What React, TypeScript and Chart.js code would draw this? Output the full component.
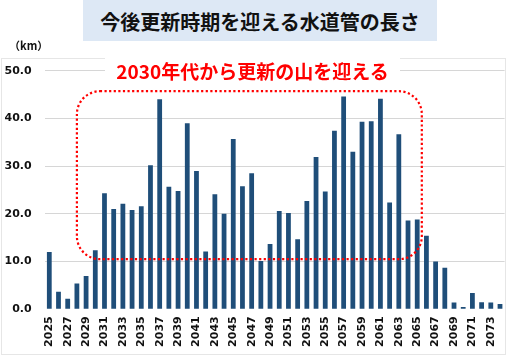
import React, { useEffect, useRef } from 'react';
import { Chart, registerables } from 'chart.js';

Chart.register(...registerables);

const TITLE = '今後更新時期を迎える水道管の長さ';
const UNIT = '（km）';
const NOTE = '2030年代から更新の山を迎える';

const YEARS = [
  '2025', '2026', '2027', '2028', '2029', '2030', '2031', '2032', '2033', '2034',
  '2035', '2036', '2037', '2038', '2039', '2040', '2041', '2042', '2043', '2044',
  '2045', '2046', '2047', '2048', '2049', '2050', '2051', '2052', '2053', '2054',
  '2055', '2056', '2057', '2058', '2059', '2060', '2061', '2062', '2063', '2064',
  '2065', '2066', '2067', '2068', '2069', '2070', '2071', '2072', '2073', '2074',
];

const LENGTH_KM = [
  12.0, 3.7, 2.2, 5.4, 7.0, 12.4, 24.3, 21.0, 22.1, 20.8,
  21.6, 30.2, 44.0, 25.7, 24.8, 39.0, 29.0, 12.1, 24.1, 20.0,
  35.7, 25.8, 28.5, 10.1, 13.7, 20.6, 20.2, 14.7, 22.7, 31.9,
  24.7, 37.4, 44.6, 33.0, 39.3, 39.4, 44.1, 22.4, 36.7, 18.6,
  18.8, 15.4, 10.0, 8.7, 1.4, 0.5, 3.4, 1.5, 1.4, 1.1,
];

const Y_MIN = 0;
const Y_MAX = 50;
const Y_STEP = 10;

// dotted "peak" frame: category index range and value range
const PEAK_FROM_INDEX = 3;
const PEAK_TO_INDEX = 40.5;
const PEAK_LOW = 10.5;
const PEAK_HIGH = 45.7;

const BAR_COLOR = '#1f4e79';
const RED = '#ff0000';

const peakFramePlugin = {
  id: 'peakFrame',
  afterDatasetsDraw(chart: any) {
    const { ctx, scales } = chart;
    const x = scales.x;
    const y = scales.y;
    const l = x.getPixelForValue(PEAK_FROM_INDEX);
    const r = x.getPixelForValue(PEAK_TO_INDEX);
    const t = y.getPixelForValue(PEAK_HIGH);
    const b = y.getPixelForValue(PEAK_LOW);
    const rad = 23;
    ctx.save();
    ctx.strokeStyle = RED;
    ctx.lineWidth = 2.2;
    ctx.setLineDash([2.2, 2.4]);
    ctx.beginPath();
    ctx.moveTo(l + rad, t);
    ctx.lineTo(r - rad, t);
    ctx.arcTo(r, t, r, t + rad, rad);
    ctx.lineTo(r, b - rad);
    ctx.arcTo(r, b, r - rad, b, rad);
    ctx.lineTo(l + rad, b);
    ctx.arcTo(l, b, l, b - rad, rad);
    ctx.lineTo(l, t + rad);
    ctx.arcTo(l, t, l + rad, t, rad);
    ctx.closePath();
    ctx.stroke();
    ctx.restore();
  },
};

export default function App() {
  const canvasRef = useRef<HTMLCanvasElement | null>(null);

  useEffect(() => {
    if (!canvasRef.current) return;
    const tickFont = { family: "'DejaVu Sans', Verdana, sans-serif", size: 11, weight: 'bold' as const };
    const chart = new Chart(canvasRef.current, {
      type: 'bar',
      data: {
        labels: YEARS,
        datasets: [
          {
            data: LENGTH_KM,
            backgroundColor: BAR_COLOR,
            borderWidth: 0,
            barPercentage: 0.52,
            categoryPercentage: 1,
          },
        ],
      },
      options: {
        responsive: false,
        animation: false,
        layout: { padding: { top: 70.7, right: 7.4, left: 0, bottom: 0 } },
        plugins: {
          legend: { display: false },
          title: { display: false },
          tooltip: { enabled: false },
        },
        scales: {
          x: {
            grid: { display: false, drawTicks: false },
            border: { display: false },
            ticks: {
              autoSkip: false,
              maxRotation: 90,
              minRotation: 90,
              padding: 7,
              color: '#111',
              font: tickFont,
              callback: (_v: any, i: number) => (i % 2 === 0 ? YEARS[i] : ''),
            },
            afterFit: (s: any) => {
              s.height = 46.7;
              s.paddingLeft = 0;
              s.paddingRight = 0;
            },
          },
          y: {
            min: Y_MIN,
            max: Y_MAX,
            grid: {
              drawTicks: false,
              color: (c: any) => (c.tick && c.tick.value === 0 ? 'rgba(0,0,0,0)' : '#d6d6d6'),
              lineWidth: 1,
            },
            border: { display: false },
            ticks: {
              stepSize: Y_STEP,
              padding: 13,
              color: '#111',
              font: tickFont,
              callback: (v: any) => Number(v).toFixed(1),
            },
            afterFit: (s: any) => {
              s.width = 44.7;
            },
          },
        },
      },
      plugins: [peakFramePlugin],
    });
    return () => chart.destroy();
  }, []);

  return (
    <div
      style={{
        position: 'fixed',
        left: 0,
        top: 0,
        width: 512,
        height: 356,
        background: '#ffffff',
        overflow: 'hidden',
      }}
    >
      <div
        style={{
          position: 'absolute',
          left: 1,
          top: 58,
          width: 505,
          height: 297,
          border: '1px solid #e6e6e6',
          boxSizing: 'border-box',
        }}
      />
      <canvas
        ref={canvasRef}
        width={512}
        height={356}
        style={{ position: 'absolute', left: 0, top: 0, width: 512, height: 356 }}
      />
      <div
        style={{
          position: 'absolute',
          left: 83,
          top: 0,
          width: 354,
          height: 41,
          background: '#dde8f5',
          color: '#111',
          fontFamily: "'Noto Sans CJK JP', sans-serif",
          fontWeight: 'bold',
          fontSize: 20,
          lineHeight: '43px',
          textAlign: 'center',
          whiteSpace: 'nowrap',
        }}
      >
        {TITLE}
      </div>
      <div
        style={{
          position: 'absolute',
          left: 9,
          top: 37,
          color: '#111',
          fontFamily: "'Noto Sans CJK JP', sans-serif",
          fontWeight: 'bold',
          fontSize: 11,
          lineHeight: '17px',
          whiteSpace: 'nowrap',
        }}
      >
        {UNIT}
      </div>
      <div
        style={{
          position: 'absolute',
          left: 105,
          top: 55,
          width: 295,
          height: 31,
          background: '#ffffff',
          color: RED,
          fontFamily: "'Noto Sans CJK JP', sans-serif",
          fontWeight: 'bold',
          fontSize: 19,
          lineHeight: '31px',
          textAlign: 'center',
          whiteSpace: 'nowrap',
        }}
      >
        {NOTE}
      </div>
    </div>
  );
}
